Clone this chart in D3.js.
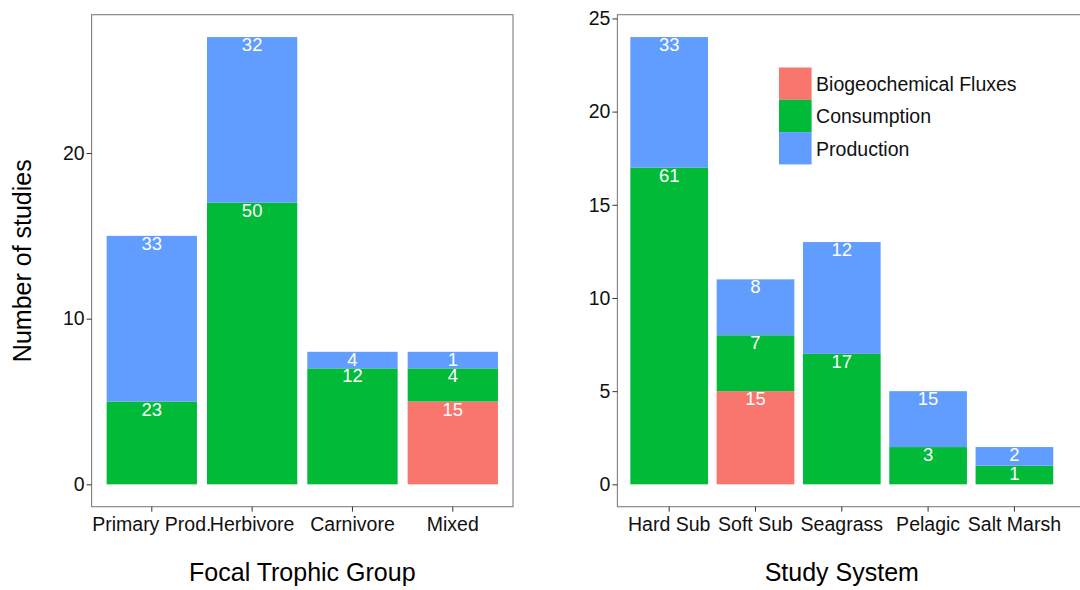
<!DOCTYPE html>
<html>
<head>
<meta charset="utf-8">
<script src="https://cdn.jsdelivr.net/npm/d3@7"></script>
<style>
  html, body { margin: 0; padding: 0; background: #fff; }
  svg { display: block; font-family: "Liberation Sans", Arial, Helvetica, sans-serif; }
</style>
</head>
<body>
<svg id="chart" width="1080" height="590"></svg>
<script>
// ---- Data ----
const seriesNames = ["Biogeochemical Fluxes", "Consumption", "Production"];
const seriesColors = ["#F8766D", "#00BA38", "#619CFF"];

const leftCategories = ["Primary Prod.", "Herbivore", "Carnivore", "Mixed"];
const leftBio  = [0, 0, 0, 5];
const leftCons = [5, 17, 7, 2];
const leftProd = [10, 10, 1, 1];
const leftBioLabels  = ["", "", "", "15"];
const leftConsLabels = ["23", "50", "12", "4"];
const leftProdLabels = ["33", "32", "4", "1"];
const leftTicks = [0, 10, 20];

const rightCategories = ["Hard Sub", "Soft Sub", "Seagrass", "Pelagic", "Salt Marsh"];
const rightBio  = [0, 5, 0, 0, 0];
const rightCons = [17, 3, 7, 2, 1];
const rightProd = [7, 3, 6, 3, 1];
const rightBioLabels  = ["", "15", "", "", ""];
const rightConsLabels = ["61", "7", "17", "3", "1"];
const rightProdLabels = ["33", "8", "12", "15", "2"];
const rightTicks = [0, 5, 10, 15, 20, 25];

const svg = d3.select("#chart");
const FONT = "'Liberation Sans', Arial, Helvetica, sans-serif";

function panel(opts) {
  const { cats, bio, cons, prod, labels, ticks, x0, x1, frameX1, y0, y1, xTitle, yTitle } = opts;
  const rows = cats.map((c, i) => ({ cat: c, bio: bio[i], cons: cons[i], prod: prod[i], i }));
  const keys = ["bio", "cons", "prod"];
  const stack = d3.stack().keys(keys)(rows);
  const maxV = d3.max(rows, r => r.bio + r.cons + r.prod);
  const pad = maxV * 0.05;

  const x = d3.scaleBand().domain(cats).range([x0, x1]).paddingInner(0.1).paddingOuter(0.15);
  const y = d3.scaleLinear().domain([-pad, maxV + pad]).range([y1, y0]);

  const g = svg.append("g");

  // bars
  stack.forEach((layer, k) => {
    g.append("g").selectAll("rect").data(layer.filter(d => d[1] - d[0] > 0)).join("rect")
      .attr("x", d => x(d.data.cat))
      .attr("width", x.bandwidth())
      .attr("y", d => y(d[1]))
      .attr("height", d => y(d[0]) - y(d[1]))
      .attr("fill", seriesColors[k]);
  });
  // labels
  stack.forEach((layer, k) => {
    g.append("g").selectAll("text").data(layer.filter(d => d[1] - d[0] > 0)).join("text")
      .attr("x", d => x(d.data.cat) + x.bandwidth() / 2)
      .attr("y", d => y(d[1]) + 14)
      .attr("text-anchor", "middle")
      .attr("fill", "#fff")
      .style("font-size", "18.5px")
      .text(d => labels[k][d.data.i]);
  });

  // frame
  g.append("rect")
    .attr("x", x0).attr("y", y0)
    .attr("width", frameX1 - x0).attr("height", y1 - y0)
    .attr("fill", "none").attr("stroke", "#7f7f7f").attr("stroke-width", 1.1);

  // y axis
  const ya = g.append("g").attr("transform", `translate(${x0},0)`)
    .call(d3.axisLeft(y).tickValues(ticks).tickSize(5).tickPadding(2).tickFormat(d3.format("d")));
  ya.select(".domain").remove();
  ya.selectAll("line").attr("stroke", "#333");
  ya.selectAll("text").attr("fill", "#111").style("font-size", "19.5px").style("font-family", FONT);

  // x axis
  const xa = g.append("g").attr("transform", `translate(0,${y1})`)
    .call(d3.axisBottom(x).tickSize(5).tickPadding(5));
  xa.select(".domain").remove();
  xa.selectAll("line").attr("stroke", "#333");
  xa.selectAll("text").attr("fill", "#111").style("font-size", "19.5px").style("font-family", FONT);

  // x title
  g.append("text")
    .attr("x", (x0 + x1) / 2).attr("y", 581)
    .attr("text-anchor", "middle").attr("fill", "#000")
    .style("font-size", "25px").text(xTitle);

  if (yTitle) {
    g.append("text")
      .attr("transform", `translate(31,${(y0 + y1) / 2}) rotate(-90)`)
      .attr("text-anchor", "middle").attr("fill", "#000")
      .style("font-size", "25px").text(yTitle);
  }
  return { x, y, g };
}

panel({
  cats: leftCategories, bio: leftBio, cons: leftCons, prod: leftProd,
  labels: [leftBioLabels, leftConsLabels, leftProdLabels], ticks: leftTicks,
  x0: 91.6, x1: 513, frameX1: 513, y0: 14.7, y1: 506.7,
  xTitle: "Focal Trophic Group", yTitle: "Number of studies"
});

panel({
  cats: rightCategories, bio: rightBio, cons: rightCons, prod: rightProd,
  labels: [rightBioLabels, rightConsLabels, rightProdLabels], ticks: rightTicks,
  x0: 617.4, x1: 1066.2, frameX1: 1090, y0: 14.7, y1: 506.7,
  xTitle: "Study System", yTitle: null
});

// legend
const leg = svg.append("g").attr("transform", "translate(779,67.5)");
const keyH = 32.3, keyW = 32.6;
seriesNames.forEach((name, i) => {
  leg.append("rect").attr("x", 0).attr("y", i * keyH).attr("width", keyW).attr("height", keyH)
    .attr("fill", seriesColors[i]);
  leg.append("text").attr("x", keyW + 4.5).attr("y", i * keyH + keyH / 2 + 7.5)
    .attr("fill", "#111").style("font-size", "19.5px").text(name);
});
</script>
</body>
</html>
